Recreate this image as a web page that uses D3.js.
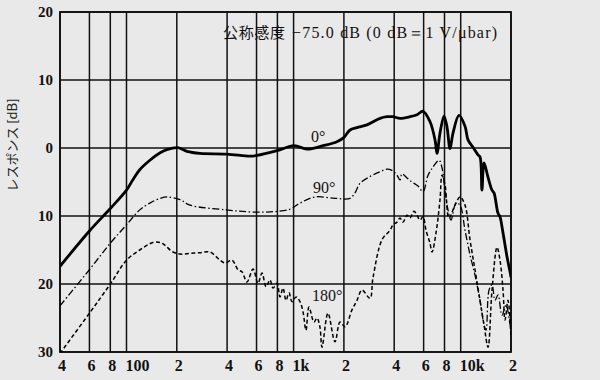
<!DOCTYPE html>
<html><head><meta charset="utf-8">
<script src="https://cdn.jsdelivr.net/npm/d3@7/dist/d3.min.js"></script>
<style>
html,body{margin:0;padding:0;background:#e9e9e9;}
svg{display:block;}
</style></head>
<body>
<svg id="c" width="600" height="380"></svg>
<script>
// ---- data ----
const xTickValues = [40,60,80,100,200,400,600,800,1000,2000,4000,6000,8000,10000,20000];
const xTickLabels = ["4","6","8","100","2","4","6","8","1k","2","4","6","8","10k","2"];
const yTickValues = [20,10,0,-10,-20,-30];
const yTickLabels = ["20","10","0","10","20","30"];
const titleCJK = "公称感度";
const titleRest = "−75.0 dB (0 dB＝1 V/μbar)";
const yTitle = "レスポンス [dB]";
const seriesNames = ["0°","90°","180°"];

const resp0 = [
 [40,-17.4],[60,-12.2],[80,-8.9],[100,-6.2],[109,-4.7],[120,-3.2],[138,-1.8],[159,-0.7],[176,-0.2],
 [203,0.05],[230,-0.5],[275,-0.8],[399,-0.9],[548,-1.2],[604,-1.1],[796,-0.4],[1006,0.34],[1203,-0.15],
 [1500,0.34],[1818,0.93],[2003,1.57],[2176,2.65],[2396,3.0],[2749,3.4],[3289,4.36],[3623,4.6],[3934,4.6],
 [4332,4.36],[4973,4.6],[5476,4.9],[5952,5.4],[6548,3.9],[7020,1.2],[7214,-0.8],[7520,2.2],[7944,4.7],
 [8280,3.1],[8630,-0.1],[8996,2.2],[9770,4.8],[10612,3.2],[11060,1.2],[11848,0.1],[12680,-1.0],[13048,-1.3],
 [13400,-6.2],[13788,-2.2],[14572,-4.3],[15396,-6.2],[15828,-6.6],[16724,-9.6],[17190,-10.1],[17672,-11.6],
 [18930,-16.0],[19732,-18.2],[20000,-19.0]
];
const resp90 = [
 [40,-23.2],[60,-17.9],[80,-14.0],[100,-11.3],[120,-9.1],[138,-8.1],[159,-7.4],[176,-7.2],[209,-7.6],
 [240,-8.4],[394,-9.1],[548,-9.4],[722,-9.4],[952,-9.0],[1092,-8.1],[1343,-7.2],[1769,-7.4],[2176,-7.4],
 [2331,-6.6],[2496,-5.2],[2865,-4.2],[3289,-3.5],[3623,-3.1],[3880,-3.3],[4157,-4.0],[4332,-4.7],[4455,-3.8],
 [4772,-4.4],[5112,-5.0],[5552,-5.6],[5952,-6.4],[6376,-4.0],[6829,-2.8],[7416,-1.8],[7728,-2.9],[8055,-6.2],
 [8396,-9.1],[8752,-10.6],[9376,-8.1],[9908,-8.4],[10612,-12.1],[11368,-15.7],[12176,-18.7],[13048,-22.4],
 [13788,-26.0],[14176,-26.8],[14772,-20.9],[15396,-20.1],[16048,-22.4],[16724,-21.6],[17672,-24.6],
 [18676,-23.1],[19732,-26.0]
];
const resp180 = [
 [40,-30.2],[60,-24.3],[80,-20.0],[100,-16.5],[120,-15.0],[144,-13.9],[159,-13.9],[170,-14.3],[187,-15.2],
 [209,-15.6],[240,-15.5],[275,-15.4],[316,-15.3],[363,-16.5],[389,-16.9],[428,-16.5],[465,-17.9],[491,-18.2],
 [526,-19.7],[572,-17.8],[612,-19.9],[647,-18.4],[684,-20.4],[722,-19.4],[753,-20.6],[796,-19.9],[829,-21.9],
 [864,-20.6],[901,-22.4],[939,-21.3],[978,-22.6],[1034,-21.9],[1092,-22.6],[1139,-24.1],[1186,-26.8],
 [1236,-23.4],[1324,-25.6],[1380,-25.0],[1437,-26.3],[1479,-29.3],[1606,-24.3],[1769,-28.5],[1895,-25.6],
 [2031,-26.3],[2236,-23.8],[2396,-22.4],[2567,-20.9],[2865,-22.1],[2986,-19.1],[3381,-13.5],[3776,-12.1],
 [3934,-11.3],[4157,-10.9],[4332,-10.3],[4516,-10.9],[4772,-9.9],[4973,-10.3],[5256,-9.3],[5476,-9.9],
 [5708,-10.6],[5952,-10.1],[6200,-12.1],[6548,-14.0],[6736,-15.3],[7116,-12.5],[7520,-7.6],[7728,-4.0],
 [8055,-5.4],[8512,-10.3],[9244,-8.4],[9908,-7.2],[10612,-8.4],[11368,-13.5],[12176,-17.9],[13048,-22.4],
 [13788,-26.0],[14572,-29.3],[15396,-20.9],[16496,-14.6],[17190,-16.5],[17920,-20.9],[18416,-25.3],
 [19192,-22.4],[19950,-27.5]
];

// ---- layout ----
const svg = d3.select("#c");
const m = {l:60, r:511, t:12, b:352};
const x = d3.scaleLog().domain([40,20000]).range([m.l, m.r]);
const y = d3.scaleLinear().domain([-30,20]).range([m.b, m.t]);

svg.append("defs").append("clipPath").attr("id","clip")
  .append("rect").attr("x",m.l).attr("y",m.t).attr("width",m.r-m.l).attr("height",m.b-m.t);

// grid
const g = svg.append("g");
g.selectAll("line.vx").data(xTickValues).join("line")
  .attr("x1",d=>x(d)).attr("x2",d=>x(d)).attr("y1",m.t).attr("y2",m.b)
  .attr("stroke","#111").attr("stroke-width",1.5);
g.selectAll("line.hy").data(yTickValues).join("line")
  .attr("x1",m.l).attr("x2",m.r).attr("y1",d=>y(d)).attr("y2",d=>y(d))
  .attr("stroke","#111").attr("stroke-width",1.5);
g.append("rect").attr("x",m.l).attr("y",m.t).attr("width",m.r-m.l).attr("height",m.b-m.t)
  .attr("fill","none").attr("stroke","#111").attr("stroke-width",1.8);

// tick labels
const tickFont = "'Liberation Serif','DejaVu Serif',serif";
svg.append("g").selectAll("text").data(xTickValues).join("text")
  .attr("x",(d,i)=> xTickLabels[i].length>1 ? x(d)-1 : x(d)+2)
  .attr("y",371)
  .attr("text-anchor",(d,i)=> xTickLabels[i].length>1 ? "start" : "middle")
  .attr("font-family",tickFont).attr("font-size",16).attr("font-weight","bold").attr("fill","#111")
  .text((d,i)=>xTickLabels[i]);
svg.append("g").selectAll("text").data(yTickValues).join("text")
  .attr("x",53).attr("y",d=>y(d)+5)
  .attr("text-anchor","end")
  .attr("font-family",tickFont).attr("font-size",15).attr("font-weight","bold").attr("fill","#111")
  .text((d,i)=>yTickLabels[i]);

// axis title
svg.append("text")
  .attr("transform","translate(17,145) rotate(-90)")
  .attr("text-anchor","middle")
  .attr("font-family","'Noto Sans CJK JP',sans-serif").attr("font-size",13).attr("fill","#222")
  .text(yTitle);

// chart title
const tt = svg.append("text").attr("y",38).attr("fill","#111").attr("font-size",15);
tt.append("tspan").attr("x",223)
  .attr("font-family","'Noto Sans CJK JP',sans-serif").attr("font-size",15)
  .attr("textLength",62).attr("lengthAdjust","spacing")
  .text(titleCJK);
tt.append("tspan").attr("x",292)
  .attr("font-family","'Liberation Serif','DejaVu Serif',serif").attr("font-size",16)
  .attr("textLength",205).attr("lengthAdjust","spacing")
  .text(titleRest);

// curves
const line = d3.line().x(d=>x(d[0])).y(d=>y(d[1])).curve(d3.curveCatmullRom.alpha(0.5));
const cg = svg.append("g").attr("clip-path","url(#clip)");
cg.append("path").datum(resp0).attr("d",line).attr("fill","none")
  .attr("stroke","#000").attr("stroke-width",2.8).attr("stroke-linejoin","round");
cg.append("path").datum(resp90).attr("d",line).attr("fill","none")
  .attr("stroke","#000").attr("stroke-width",1.3).attr("stroke-dasharray","7,2.5,1.5,2.5");
cg.append("path").datum(resp180).attr("d",line).attr("fill","none")
  .attr("stroke","#000").attr("stroke-width",1.5).attr("stroke-dasharray","4,2.5");

// series labels
const lblPos = [[311,142],[313,193],[312,301]];
svg.append("g").selectAll("text").data(seriesNames).join("text")
  .attr("x",(d,i)=>lblPos[i][0]).attr("y",(d,i)=>lblPos[i][1])
  .attr("font-family",tickFont).attr("font-size",16).attr("fill","#111")
  .text(d=>d);
</script>
</body></html>
